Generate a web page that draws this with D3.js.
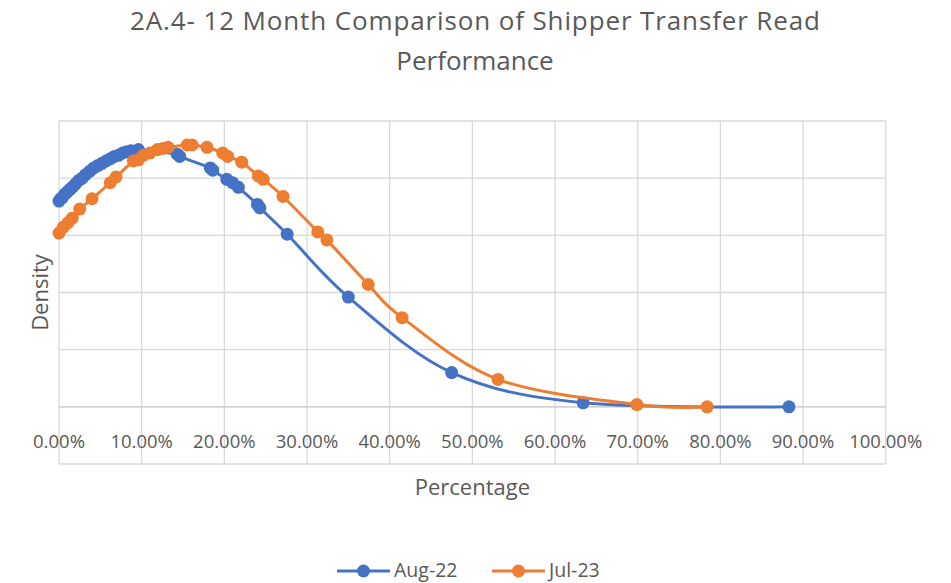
<!DOCTYPE html>
<html>
<head>
<meta charset="utf-8">
<script src="https://cdn.jsdelivr.net/npm/d3@7"></script>
<style>
  body { margin: 0; background: #fff; }
  svg { display: block; font-family: "Open Sans", sans-serif; }
</style>
</head>
<body>
<div id="app"></div>
<script>
const titleLines = ["2A.4- 12 Month Comparison of Shipper Transfer Read", "Performance"];
const seriesNames = ["Aug-22", "Jul-23"];
const seriesColors = ["#4472C4", "#ED7D31"];

// Aug-22 (percentage, density)
const aug22Pct = [0, 0.2, 0.4, 0.7, 1.0, 1.3, 1.6, 2.0, 2.4, 2.8, 3.2, 3.7, 4.2, 4.7, 5.2, 5.7, 6.2, 6.7, 7.2, 7.7, 8.2, 8.7, 9.6,
    14.3, 14.6, 18.3, 18.6, 20.3, 21.0, 21.7, 24.0, 24.3, 27.6, 35.0, 47.5, 63.4, 88.3];
const aug22Density = [1.80, 1.82, 1.83, 1.86, 1.88, 1.90, 1.92, 1.95, 1.98, 2.00, 2.03, 2.06, 2.09, 2.11, 2.13, 2.15, 2.17, 2.19, 2.20, 2.22, 2.23, 2.24, 2.25,
    2.21, 2.19, 2.09, 2.07, 1.99, 1.96, 1.92, 1.77, 1.74, 1.51, 0.96, 0.30, 0.035, 0.0];

// Jul-23 (percentage, density)
const jul23Pct = [0, 0.5, 1.1, 1.6, 2.5, 4.0, 6.2, 6.9, 9.0, 9.6, 10.2, 11.0, 11.9, 12.6, 13.2, 15.5, 16.1, 17.9, 19.8, 20.4,
    22.1, 24.1, 24.7, 27.1, 31.3, 32.4, 37.4, 41.5, 53.1, 69.9, 78.4];
const jul23Density = [1.52, 1.57, 1.61, 1.65, 1.73, 1.82, 1.96, 2.01, 2.15, 2.16, 2.20, 2.22, 2.25, 2.26, 2.27, 2.29, 2.29, 2.27, 2.22, 2.19,
    2.14, 2.02, 1.99, 1.84, 1.53, 1.46, 1.07, 0.78, 0.24, 0.02, 0.0];

const xTicks = d3.range(0, 101, 10);
const yTicks = [-0.5, 0, 0.5, 1, 1.5, 2, 2.5];

const width = 951, height = 583;
const plot = { left: 59, right: 885.7, top: 121, bottom: 464 };

const svg = d3.select("#app").append("svg")
    .attr("width", width)
    .attr("height", height);

const x = d3.scaleLinear().domain([0, 100]).range([plot.left, plot.right]);
const y = d3.scaleLinear().domain([-0.5, 2.5]).range([plot.bottom, plot.top]);

// title
svg.append("g").selectAll("text")
    .data(titleLines)
    .join("text")
    .attr("x", 475)
    .attr("y", (d, i) => 30 + i * 40)
    .attr("text-anchor", "middle")
    .attr("font-size", 26)
    .attr("fill", "#595959")
    .attr("textLength", (d, i) => i === 0 ? 690 : null)
    .attr("lengthAdjust", "spacing")
    .text(d => d);

// grid
const grid = svg.append("g").attr("stroke", "#D9D9D9").attr("stroke-width", 1.3);
grid.selectAll("line.v")
    .data(xTicks)
    .join("line")
    .attr("class", "v")
    .attr("x1", d => x(d)).attr("x2", d => x(d))
    .attr("y1", plot.top).attr("y2", plot.bottom);
grid.selectAll("line.h")
    .data(yTicks)
    .join("line")
    .attr("class", "h")
    .attr("x1", plot.left).attr("x2", plot.right)
    .attr("y1", d => y(d)).attr("y2", d => y(d));

// x axis line at zero
svg.append("line")
    .attr("x1", plot.left).attr("x2", plot.right)
    .attr("y1", y(0)).attr("y2", y(0))
    .attr("stroke", "#D0D0D0")
    .attr("stroke-width", 1.5);

// tick labels
svg.append("g").selectAll("text")
    .data(xTicks)
    .join("text")
    .attr("x", d => x(d))
    .attr("y", 448)
    .attr("text-anchor", "middle")
    .attr("font-size", 18.5)
    .attr("fill", "#595959")
    .text(d => d3.format(".2f")(d) + "%");

// axis titles
svg.append("text")
    .attr("x", x(50))
    .attr("y", 495)
    .attr("text-anchor", "middle")
    .attr("font-size", 22)
    .attr("fill", "#595959")
    .text("Percentage");

svg.append("text")
    .attr("transform", `translate(48,${y(1)}) rotate(-90)`)
    .attr("text-anchor", "middle")
    .attr("font-size", 22)
    .attr("fill", "#595959")
    .text("Density");

// series
const series = [
    { name: seriesNames[0], color: seriesColors[0], pts: aug22Pct.map((p, i) => [p, aug22Density[i]]) },
    { name: seriesNames[1], color: seriesColors[1], pts: jul23Pct.map((p, i) => [p, jul23Density[i]]) }
];

const line = d3.line()
    .x(d => x(d[0]))
    .y(d => y(d[1]))
    .curve(d3.curveCardinal.tension(0));

series.forEach(s => {
    const g = svg.append("g");
    g.append("path")
        .attr("d", line(s.pts))
        .attr("fill", "none")
        .attr("stroke", s.color)
        .attr("stroke-width", 3);
    g.selectAll("circle")
        .data(s.pts)
        .join("circle")
        .attr("cx", d => x(d[0]))
        .attr("cy", d => y(d[1]))
        .attr("r", 6.5)
        .attr("fill", s.color);
});

// legend
const legend = svg.append("g").selectAll("g")
    .data(series)
    .join("g")
    .attr("transform", (d, i) => `translate(${337 + i * 155},571)`);
legend.append("line")
    .attr("x1", 0).attr("x2", 53)
    .attr("stroke", d => d.color)
    .attr("stroke-width", 3);
legend.append("circle")
    .attr("cx", 26.5)
    .attr("r", 6.5)
    .attr("fill", d => d.color);
legend.append("text")
    .attr("x", 57)
    .attr("y", 6)
    .attr("font-size", 19.5)
    .attr("fill", "#595959")
    .text(d => d.name);
</script>
</body>
</html>
